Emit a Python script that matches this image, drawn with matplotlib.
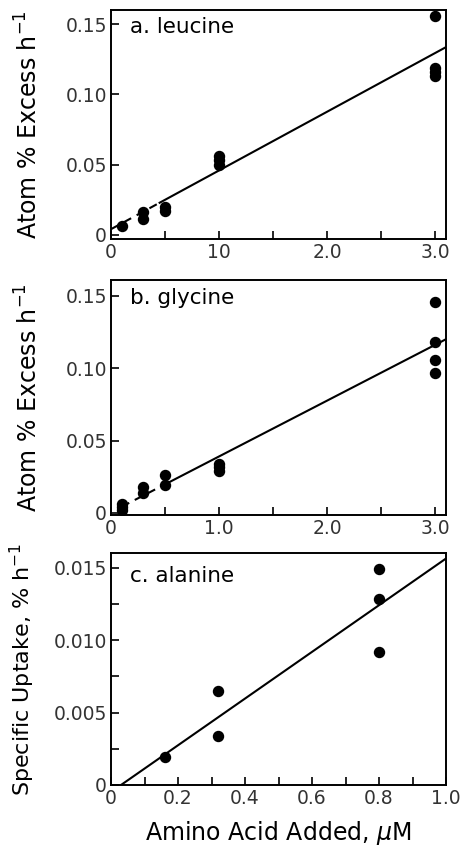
import numpy as np
import matplotlib
matplotlib.use("Agg")
import matplotlib.pyplot as plt

# Panel a. leucine
leu_x = [0.1, 0.3, 0.3, 0.5, 0.5, 1.0, 1.0, 1.0, 3.0, 3.0, 3.0, 3.0]
leu_y = [0.006, 0.016, 0.011, 0.020, 0.017, 0.056, 0.053, 0.050, 0.156, 0.119, 0.116, 0.113]
leu_fit = (0.0418, 0.004)   # slope, intercept

# Panel b. glycine
gly_x = [0.1, 0.1, 0.1, 0.3, 0.3, 0.5, 0.5, 1.0, 1.0, 1.0, 3.0, 3.0, 3.0, 3.0]
gly_y = [0.006, 0.004, 0.002, 0.018, 0.014, 0.026, 0.019, 0.034, 0.032, 0.029, 0.146, 0.118, 0.106, 0.097]
gly_fit = (0.0386, 0.0004)

# Panel c. alanine
ala_x = [0.16, 0.32, 0.32, 0.80, 0.80, 0.80]
ala_y = [0.0019, 0.0065, 0.0034, 0.0149, 0.0128, 0.0092]
ala_fit = (0.0161, -0.00048)

ab_xticks = [0, 0.5, 1.0, 1.5, 2.0, 2.5, 3.0]
a_xlabels = ["0", "", "10", "", "2.0", "", "3.0"]
b_xlabels = ["0", "", "1.0", "", "2.0", "", "3.0"]
ab_yticks = [0, 0.05, 0.10, 0.15]
ab_ylabels = ["0", "0.05", "0.10", "0.15"]
c_xticks = [0, 0.1, 0.2, 0.3, 0.4, 0.5, 0.6, 0.7, 0.8, 0.9, 1.0]
c_xlabels = ["0", "", "0.2", "", "0.4", "", "0.6", "", "0.8", "", "1.0"]
c_yticks = [0, 0.0025, 0.005, 0.0075, 0.010, 0.0125, 0.015]
c_ylabels = ["0", "", "0.005", "", "0.010", "", "0.015"]

plt.rcParams['font.family'] = ['DejaVu Sans']

fig = plt.figure(figsize=(4.61, 8.49), dpi=100)
W, H = 461, 849

def make_ax(left, top, right, bottom):
    return fig.add_axes([left / W, 1 - bottom / H, (right - left) / W, (bottom - top) / H])

def style(ax):
    for s in ax.spines.values():
        s.set_linewidth(1.4)
    ax.tick_params(direction='in', length=6, width=1.2, labelsize=13.5, pad=3,
                   top=False, right=False, colors='black')
    for lab in ax.get_xticklabels() + ax.get_yticklabels():
        lab.set_color('#333333')

def fit_line(ax, fit, x0, xb, x1):
    m, b = fit
    xd = np.array([x0, xb])
    xs = np.array([xb, x1])
    ax.plot(xd, m * xd + b, color='black', lw=1.5, ls=(0, (4, 3)), zorder=2)
    ax.plot(xs, m * xs + b, color='black', lw=1.5, zorder=2)

mk = dict(marker='o', ls='none', color='black', ms=7.2, zorder=3)

# a
ax1 = make_ax(111, 10, 446, 239)
ax1.plot(leu_x, leu_y, **mk)
fit_line(ax1, leu_fit, 0.0, 0.45, 3.1)
ax1.set_xlim(0, 3.1)
ax1.set_ylim(-0.003, 0.160)
ax1.set_xticks(ab_xticks, a_xlabels)
ax1.set_yticks(ab_yticks, ab_ylabels)
ax1.set_ylabel("Atom % Excess h$^{-1}$", fontsize=17)
ax1.yaxis.set_label_coords(-0.205, 0.5)
ax1.text(0.057, 0.925, "a. leucine", transform=ax1.transAxes, fontsize=15.5, va='center')
style(ax1)

# b
ax2 = make_ax(111, 280, 446, 515)
ax2.plot(gly_x, gly_y, **mk)
fit_line(ax2, gly_fit, 0.1, 0.5, 3.1)
ax2.set_xlim(0, 3.1)
ax2.set_ylim(-0.0015, 0.161)
ax2.set_xticks(ab_xticks, b_xlabels)
ax2.set_yticks(ab_yticks, ab_ylabels)
ax2.set_ylabel("Atom % Excess h$^{-1}$", fontsize=17)
ax2.yaxis.set_label_coords(-0.205, 0.5)
ax2.text(0.057, 0.925, "b. glycine", transform=ax2.transAxes, fontsize=15.5, va='center')
style(ax2)

# c
ax3 = make_ax(111, 553, 446, 785)
ax3.plot(ala_x, ala_y, **mk)
m, b = ala_fit
xs = np.array([-b / m, 1.0])
ax3.plot(xs, m * xs + b, color='black', lw=1.5, zorder=2)
ax3.set_xlim(0, 1.0)
ax3.set_ylim(0, 0.0160)
ax3.set_xticks(c_xticks, c_xlabels)
ax3.set_yticks(c_yticks, c_ylabels)
ax3.set_ylabel("Specific Uptake, % h$^{-1}$", fontsize=16)
ax3.yaxis.set_label_coords(-0.22, 0.5)
ax3.set_xlabel("Amino Acid Added, $\\mu$M", fontsize=17, labelpad=8)
ax3.text(0.057, 0.90, "c. alanine", transform=ax3.transAxes, fontsize=15.5, va='center')
style(ax3)

fig.savefig("out.png", dpi=100)
